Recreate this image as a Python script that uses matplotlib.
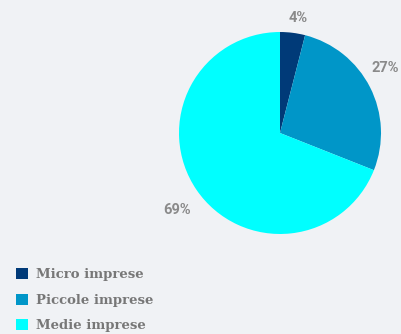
import matplotlib
matplotlib.use("Agg")
import matplotlib.pyplot as plt
from matplotlib.patches import Patch

categories = ["Micro imprese", "Piccole imprese", "Medie imprese"]
values = [4, 27, 69]
colors = ["#003a78", "#0096c8", "#00ffff"]
labels = ["4%", "27%", "69%"]

bg = "#f0f2f5"
fig = plt.figure(figsize=(4.01, 3.34), dpi=100, facecolor=bg)
ax = fig.add_axes([0.4464, 0.2994, 0.5037, 0.6048])
ax.set_facecolor(bg)

wedges, texts = ax.pie(values, colors=colors, labels=labels, startangle=90,
                       counterclock=False, labeldistance=1.15,
                       wedgeprops=dict(linewidth=0),
                       textprops=dict(family="Roboto", fontweight="bold",
                                      fontsize=10.5, color="#8a8a8a"))
ax.set_xlim(-1, 1)
ax.set_ylim(-1, 1)
ax.set_aspect("equal")

# nudge labels to where the original places them
texts[0].set_position((0.09, 1.14))
texts[1].set_position((0.91, 0.64))
texts[2].set_position((-0.88, -0.76))
texts[2].set_ha("right")

handles = [Patch(facecolor=c, edgecolor="none") for c in colors]
leg = fig.legend(handles, categories, loc="lower left",
                 bbox_to_anchor=(0.01, -0.03), frameon=False,
                 prop=dict(family="DejaVu Serif", weight="bold", size=9.5),
                 handlelength=0.9, handleheight=0.9, handletextpad=0.6,
                 labelspacing=0.95)
for t in leg.get_texts():
    t.set_color("#777777")

fig.savefig("out.png", dpi=100, facecolor=bg)
